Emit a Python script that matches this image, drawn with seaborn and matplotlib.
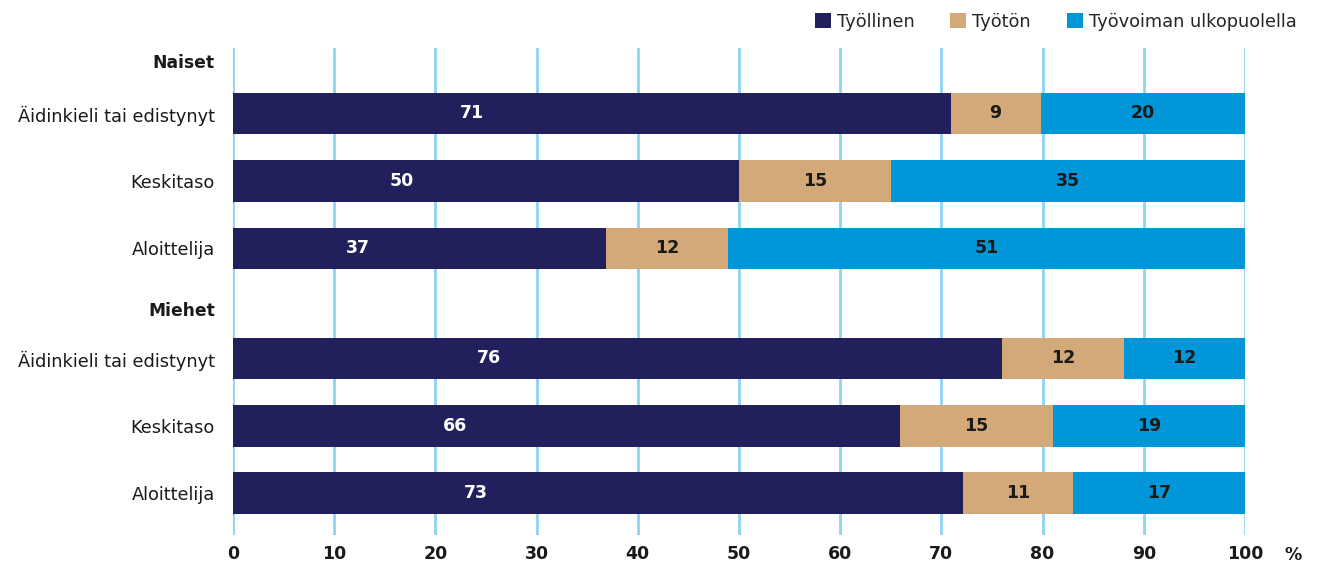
import matplotlib
matplotlib.use("Agg")
import matplotlib.pyplot as plt
from matplotlib.patches import Patch
import seaborn as sns
import pandas as pd

# ---- data ----
groups = ["Naiset", "Naiset", "Naiset", "Miehet", "Miehet", "Miehet"]
levels = ["Äidinkieli tai edistynyt", "Keskitaso", "Aloittelija",
          "Äidinkieli tai edistynyt", "Keskitaso", "Aloittelija"]
series_names = ["Työllinen", "Työtön", "Työvoiman ulkopuolella"]
employed = [70.9, 50.0, 36.9, 76.0, 65.9, 72.1]
unemployed = [8.9, 15.0, 12.0, 12.0, 15.1, 10.9]
outside = [20.2, 35.0, 51.1, 12.0, 19.0, 17.0]
employed_labels = [71, 50, 37, 76, 66, 73]
unemployed_labels = [9, 15, 12, 12, 15, 11]
outside_labels = [20, 35, 51, 12, 19, 17]
x_ticks = [0, 10, 20, 30, 40, 50, 60, 70, 80, 90, 100]
headers = ["Naiset", "Miehet"]

# ---- layout (vertical positions of rows, in display-like units) ----
row_pos = [113.5, 181.0, 248.5, 358.5, 426.0, 493.0]
header_pos = [61, 309]

colors = ["#22205c", "#d3a979", "#0096d8"]
grid_color = "#8fd3f4"
text_color = "#1a1a1a"

sns.set_theme(style="white")
plt.rcParams["font.family"] = ["DejaVu Sans"]

df = pd.DataFrame({
    "pos": row_pos,
    "c1": employed,
    "c2": [a + b for a, b in zip(employed, unemployed)],
    "c3": [a + b + c for a, b, c in zip(employed, unemployed, outside)],
})

fig = plt.figure(figsize=(13.19, 5.64), dpi=100)
ax = fig.add_axes([233 / 1319, 1 - 535 / 564, (1245 - 233) / 1319, (535 - 48) / 564])

for col, colr in zip(["c3", "c2", "c1"], colors[::-1]):
    sns.barplot(data=df, x=col, y="pos", orient="y", native_scale=True,
                color=colr, width=0.625, errorbar=None, ax=ax,
                saturation=1, linewidth=0, zorder=3)

ax.set_xlim(0, 100)
ax.set_ylim(535, 48)
ax.set_xticks(x_ticks)
ax.set_xticklabels([str(t) for t in x_ticks], fontsize=12.5, fontweight="bold",
                   color=text_color)
ax.tick_params(axis="x", length=0, pad=7)
ax.grid(axis="x", color=grid_color, linewidth=2, zorder=0)
ax.grid(axis="y", visible=False)
for s in ax.spines.values():
    s.set_visible(False)
ax.set_xlabel("")
ax.set_ylabel("")

yt = row_pos + header_pos
yl = levels + headers
ax.set_yticks(yt)
ax.set_yticklabels(yl, fontsize=12.8, color=text_color)
ax.tick_params(axis="y", length=0, pad=13)
for lbl in ax.get_yticklabels():
    if lbl.get_text() in headers:
        lbl.set_fontweight("bold")
        lbl.set_fontsize(12.3)

# segment labels
for i, p in enumerate(row_pos):
    e, u, o = employed[i], unemployed[i], outside[i]
    ax.text(e / 3, p, str(employed_labels[i]), ha="center", va="center",
            color="white", fontsize=12.5, fontweight="bold", zorder=5)
    ax.text(e + u / 2, p, str(unemployed_labels[i]), ha="center", va="center",
            color=text_color, fontsize=12.5, fontweight="bold", zorder=5)
    ax.text(e + u + o / 2, p, str(outside_labels[i]), ha="center", va="center",
            color=text_color, fontsize=12.5, fontweight="bold", zorder=5)

fig.text(1293 / 1319, 1 - 555 / 564, "%", ha="center", va="center",
         fontsize=12.5, fontweight="bold", color=text_color)

handles = [Patch(facecolor=c, edgecolor="none") for c in colors]
fig.legend(handles, series_names, loc="center right", bbox_to_anchor=(1309 / 1319, 1 - 22 / 564),
           ncol=3, frameon=False, fontsize=12.8, handlelength=0.9, handleheight=0.9,
           handletextpad=0.35, columnspacing=2.0, borderpad=0.2)

fig.savefig("out.png", dpi=100)
